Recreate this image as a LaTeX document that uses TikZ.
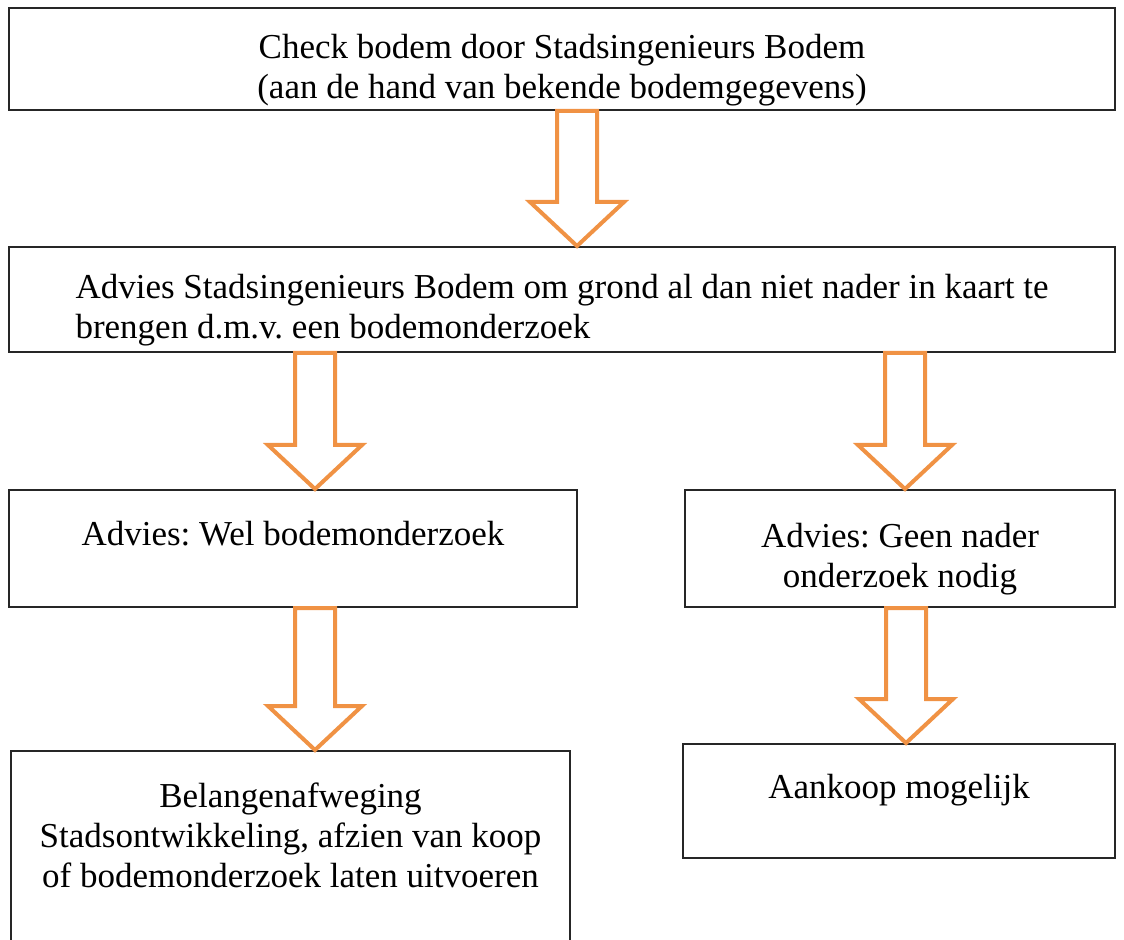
\documentclass[tikz,border=0pt]{standalone}
\usepackage{fontspec}
\setmainfont{Liberation Serif}
\usetikzlibrary{calc}

\definecolor{arroworange}{RGB}{240,146,68}

% extra room above the first line of a box
\newcommand{\toppad}{\rule{0pt}{23pt}}

% hollow block arrow at x=#1 from node #2 down to node #3
\newcommand{\blockarrow}[3]{%
  \draw[arrowline] let \p1=(#1,0), \p2=(#2.south), \p3=(#3.north) in
    (\x1-10pt,\y2) -- (\x1+10pt,\y2) -- (\x1+10pt,\y3+22pt) -- (\x1+23.5pt,\y3+22pt)
    -- (\x1,\y3) -- (\x1-23.5pt,\y3+22pt) -- (\x1-10pt,\y3+22pt) -- cycle;}

\begin{document}
\frenchspacing
\begin{tikzpicture}[x=0.5pt,y=-0.5pt,
  box/.style={draw=black!85,line width=1pt,inner sep=0pt,align=center,
    font=\fontsize{17.5}{20}\selectfont},
  arrowline/.style={draw=arroworange,line width=2pt,fill=white,line join=miter}]

\useasboundingbox (0,0) rectangle (1124,940);
\clip (0,0) rectangle (1124,940);

\node[box,minimum width=553pt,minimum height=51pt] (check) at (562,59)
  {\toppad Check bodem door Stadsingenieurs Bodem\\(aan de hand van bekende bodemgegevens)};
\node[box,align=left,minimum width=553pt,minimum height=52.5pt] (advies) at (562,299.5)
  {\toppad Advies Stadsingenieurs Bodem om grond al dan niet nader in kaart te\\brengen d.m.v. een bodemonderzoek};

\node[box,minimum width=284pt,minimum height=58.5pt] (wel) at (293,548.5)
  {\toppad Advies: Wel bodemonderzoek\\\strut};
\node[box,minimum width=215pt,minimum height=58.5pt] (geen) at (900,548.5)
  {\toppad Advies: Geen nader\\onderzoek nodig};

\node[box,minimum width=279.5pt,minimum height=99pt] (belang) at (290.5,850)
  {\toppad Belangenafweging\\Stadsontwikkeling, afzien van koop\\of bodemonderzoek laten uitvoeren\\\strut};
\node[box,minimum width=216pt,minimum height=57pt] (aankoop) at (899,801)
  {\toppad Aankoop mogelijk\\\strut};

\blockarrow{577}{check}{advies}
\blockarrow{315}{advies}{wel}
\blockarrow{905}{advies}{geen}
\blockarrow{315}{wel}{belang}
\blockarrow{906}{geen}{aankoop}
\end{tikzpicture}
\end{document}
